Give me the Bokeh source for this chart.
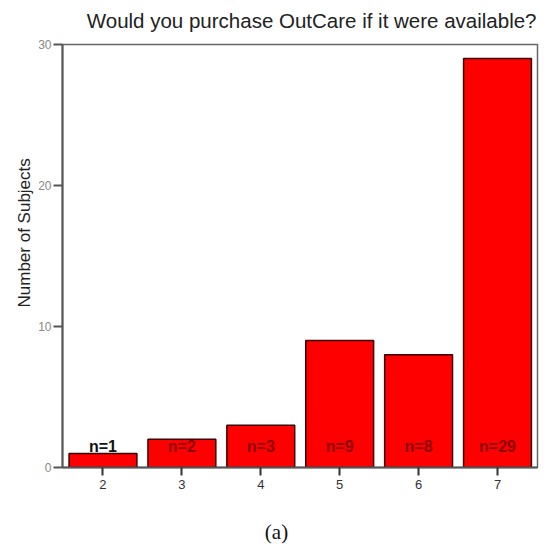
from bokeh.plotting import figure
from bokeh.layouts import column
from bokeh.models import ColumnDataSource, FixedTicker, Range1d, Title
from bokeh.embed import file_html
from bokeh.resources import INLINE
from bokeh.core.properties import value

# data
ratings = [2, 3, 4, 5, 6, 7]
counts = [1, 2, 3, 9, 8, 29]
count_labels = [f"n={c}" for c in counts]
y_ticks = [0, 10, 20, 30]
title_text = "Would you purchase OutCare if it were available?"
y_title = "Number of Subjects"
caption = "(a)"

W = 555
FRAME_L, FRAME_R = 62, 537
label_colors = ["#111111"] + ["#8b0000"] * (len(counts) - 1)


def text_strip(height, txt, x, y, align, font, size, color):
    # strip whose frame lines up with the main plot frame (column aligns frames)
    f = figure(width=W, height=height, output_backend="svg", toolbar_location=None,
               x_range=Range1d(FRAME_L, FRAME_R), y_range=Range1d(0, height),
               x_axis_location=None, y_axis_location=None,
               min_border_left=FRAME_L, min_border_right=W - FRAME_R,
               min_border_top=0, min_border_bottom=0)
    f.grid.visible = False
    f.outline_line_color = None
    f.background_fill_color = "white"
    f.border_fill_color = "white"
    f.text(x=[x], y=[y], text=[txt], text_align=align, text_baseline="middle",
           text_font=value(font), text_font_size=size, text_color=color)
    return f


# title strip
pt = text_strip(36, title_text, 536, 16, "right", "Liberation Sans", "20.5px", "#222222")

src = ColumnDataSource(dict(x=ratings, top=counts, lab=count_labels,
                            ly=[1.5] * len(counts), col=label_colors))

p = figure(width=W, height=474, output_backend="svg", toolbar_location=None,
           x_range=Range1d(1.487, 7.507), y_range=Range1d(0, 30),
           min_border_left=FRAME_L, min_border_right=W - FRAME_R,
           min_border_top=8, min_border_bottom=43)
p.background_fill_color = "white"
p.border_fill_color = "white"
p.grid.visible = False
p.outline_line_color = "#666666"
p.outline_line_width = 1.5

p.vbar(x="x", top="top", width=0.86, bottom=0, source=src,
       fill_color="#ff0000", line_color="#3a0000", line_width=1.5)

p.text(x="x", y="ly", text="lab", source=src, text_align="center", text_baseline="middle",
       text_font=value("Liberation Sans"), text_font_style="bold", text_font_size="16px",
       text_color="col")

# axes
ya = p.yaxis[0]
ya.ticker = FixedTicker(ticks=y_ticks)
ya.axis_line_color = "#555555"
ya.axis_line_width = 2
ya.major_tick_line_color = "#555555"
ya.major_tick_line_width = 2
ya.major_tick_out = 9
ya.major_tick_in = 0
ya.minor_tick_line_color = None
ya.major_label_text_color = "#888888"
ya.major_label_text_font = "Liberation Sans"
ya.major_label_text_font_size = "12px"
ya.major_label_standoff = 2

xa = p.xaxis[0]
xa.ticker = FixedTicker(ticks=ratings)
xa.axis_line_color = "#555555"
xa.axis_line_width = 2
xa.major_tick_line_color = "#333333"
xa.major_tick_line_width = 2
xa.major_tick_out = 8
xa.major_tick_in = 0
xa.minor_tick_line_color = None
xa.major_label_text_color = "#333333"
xa.major_label_text_font = "Liberation Sans"
xa.major_label_text_font_size = "13px"
xa.major_label_standoff = 4

# y-axis title, placed off-centre (shifted up) as in the original
p.add_layout(Title(text=y_title, align="left", offset=160, standoff=4,
                   text_font="Liberation Sans", text_font_style="normal",
                   text_font_size="17px", text_color="#222222"), "left")

# caption strip
pc = text_strip(34, caption, 276, 13, "center", "Liberation Serif", "21px", "#111111")

layout = column(pt, p, pc, spacing=0)
open("out.html", "w").write(file_html(layout, INLINE))
